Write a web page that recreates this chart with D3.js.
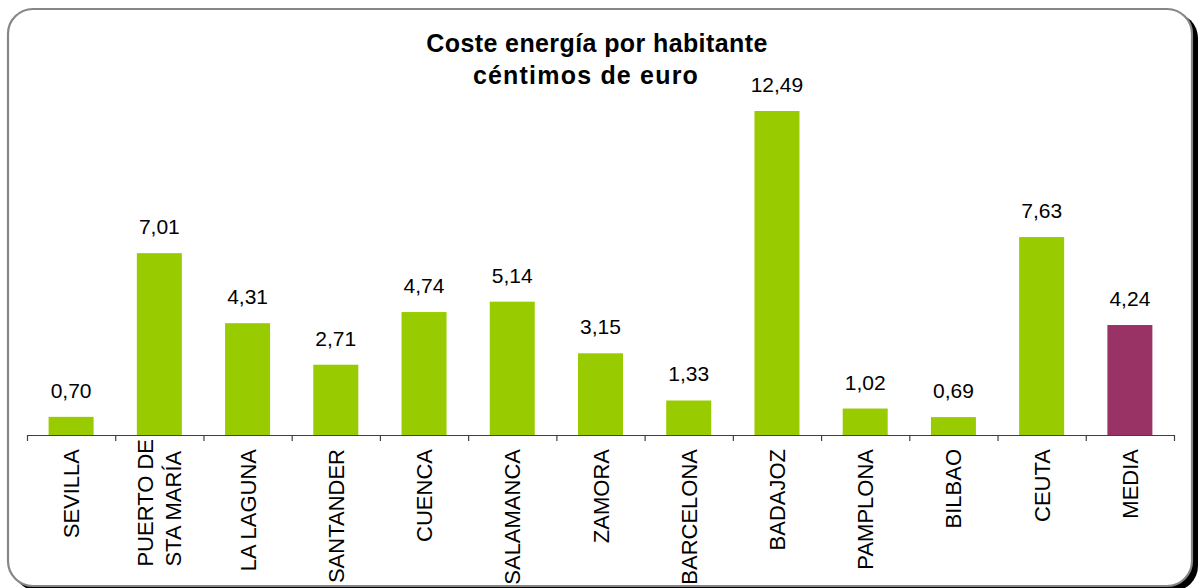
<!DOCTYPE html>
<html>
<head>
<meta charset="utf-8">
<script src="https://cdn.jsdelivr.net/npm/d3@7"></script>
<style>
  html, body { margin: 0; padding: 0; background: #fff; }
  svg { display: block; font-family: "Liberation Sans", Arial, sans-serif; }
</style>
</head>
<body>
<svg id="chart" width="1200" height="588"></svg>
<script>
// ---- data ----
const titleLines = ["Coste energía por habitante", "céntimos de euro"];
const categories = ["SEVILLA", "PUERTO DE\nSTA MARÍA", "LA LAGUNA", "SANTANDER", "CUENCA", "SALAMANCA",
  "ZAMORA", "BARCELONA", "BADAJOZ", "PAMPLONA", "BILBAO", "CEUTA", "MEDIA"];
const values = [0.70, 7.01, 4.31, 2.71, 4.74, 5.14, 3.15, 1.33, 12.49, 1.02, 0.69, 7.63, 4.24];
const highlightCategory = "MEDIA";

// ---- layout ----
const svg = d3.select("#chart");
const baseY = 435;
const green = "#99CC00", purple = "#993366";

// frame with shadow
svg.append("rect").attr("x", 13).attr("y", 13).attr("width", 1185).attr("height", 578)
  .attr("rx", 25).attr("fill", "#000");
svg.append("rect").attr("x", 8).attr("y", 9).attr("width", 1184).attr("height", 577)
  .attr("rx", 25).attr("fill", "#fff").attr("stroke", "#868686").attr("stroke-width", 2.2);

// title
const titleCfg = [{x: 597, y: 52, ls: 0.4}, {x: 586, y: 84, ls: 1.2}];
svg.append("g").selectAll("text").data(titleLines).join("text")
  .attr("x", (d, i) => titleCfg[i].x)
  .attr("y", (d, i) => titleCfg[i].y)
  .attr("text-anchor", "middle")
  .attr("font-size", 25).attr("font-weight", "bold")
  .attr("letter-spacing", (d, i) => titleCfg[i].ls)
  .attr("fill", "#000")
  .text(d => d);

// scales
const x = d3.scaleBand().domain(categories).range([27, 1174]).paddingInner(0.49).paddingOuter(0.245);
const y = d3.scaleLinear().domain([0, 14]).range([baseY, baseY - 14 * (324 / 12.49)]);

// bars
svg.append("g").selectAll("rect").data(categories).join("rect")
  .attr("x", d => x(d))
  .attr("width", x.bandwidth())
  .attr("y", (d, i) => y(values[i]))
  .attr("height", (d, i) => y(0) - y(values[i]))
  .attr("fill", d => d === highlightCategory ? purple : green);

// value labels
const fmt = v => d3.format(".2f")(v).replace(".", ",");
svg.append("g").selectAll("text").data(categories).join("text")
  .attr("x", d => x(d) + x.bandwidth() / 2)
  .attr("y", (d, i) => y(values[i]) - 19)
  .attr("text-anchor", "middle")
  .attr("font-size", 21)
  .attr("fill", "#000")
  .text((d, i) => fmt(values[i]));

// x axis line with ticks at category boundaries
const axisG = svg.append("g").attr("transform", `translate(0,${baseY})`);
const boundaryScale = d3.scaleLinear().domain([0, categories.length]).range(x.range());
const axis = d3.axisBottom(boundaryScale)
  .tickValues(d3.range(categories.length + 1))
  .tickSize(6).tickSizeOuter(0).tickFormat("");
axisG.call(axis);
axisG.select(".domain").attr("stroke", "#404040").attr("stroke-width", 1.2);
axisG.selectAll(".tick line").attr("stroke", "#404040").attr("stroke-width", 1.2);

// category labels (rotated)
const labelFont = 22;
const labelTop = 449;
const lineGap = 28;
const labelG = svg.append("g");
categories.forEach(cat => {
  const lines = cat.split("\n");
  const cx = x(cat) + x.bandwidth() / 2;
  const n = lines.length;
  if (n === 1) {
    labelG.append("text")
      .attr("transform", `translate(${cx + 8},${labelTop}) rotate(-90)`)
      .attr("text-anchor", "end")
      .attr("font-size", labelFont).attr("fill", "#000")
      .text(lines[0]);
  } else {
    // multi-line: lines left-aligned, longest line reaches near the axis
    const tmp = labelG.append("text").attr("font-size", labelFont);
    const widths = lines.map(l => { tmp.text(l); return tmp.node().getComputedTextLength(); });
    tmp.remove();
    const maxW = d3.max(widths);
    const startY = 439 + maxW;
    lines.forEach((l, k) => {
      const off = (k - (n - 1) / 2) * lineGap;
      labelG.append("text")
        .attr("transform", `translate(${cx + 8 + off},${startY}) rotate(-90)`)
        .attr("text-anchor", "start")
        .attr("font-size", labelFont).attr("fill", "#000")
        .text(l);
    });
  }
});
</script>
</body>
</html>
